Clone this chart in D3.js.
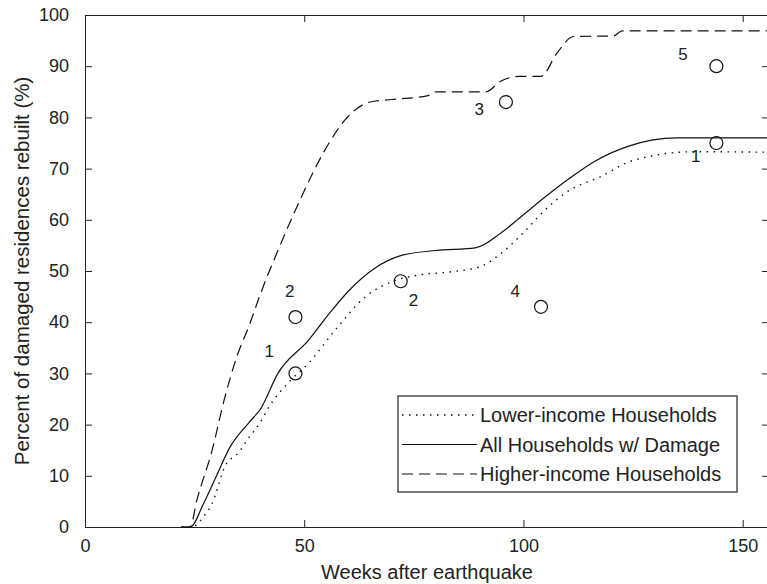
<!DOCTYPE html>
<html>
<head>
<meta charset="utf-8">
<script src="https://cdn.jsdelivr.net/npm/d3@7"></script>
<style>
  body { margin: 0; background: #fff; }
  text { font-family: "Liberation Sans", Arial, sans-serif; fill: #222; }
</style>
</head>
<body>
<div id="chart"></div>
<script>
'use strict';

/* curves: weeks after earthquake -> percent rebuilt */
var allWeeks = [22, 24, 27, 30, 33, 37.5, 40, 44, 51, 56, 60, 66, 72, 80, 89, 95, 100, 105, 111, 116, 124, 135, 156];
var allPct   = [0, 0, 4.5, 10, 15.5, 20.5, 23, 30, 36.5, 42, 46, 50.5, 53, 54, 54.5, 57.5, 61, 64.5, 68.4, 71.3, 74.4, 76, 76];

var lowWeeks = [22, 24.5, 27, 29, 32, 35, 37, 40, 42, 46.5, 51, 57, 64, 71, 76, 83, 90, 95, 100, 105, 110, 117.5, 125, 139, 156];
var lowPct   = [0, 0, 2, 4.6, 12, 14.5, 17, 20.5, 23.5, 28.3, 32, 38.4, 45, 48.2, 49.2, 49.8, 50.8, 53.5, 57.5, 62, 65.5, 68.4, 71.6, 73.3, 73.2];

var highWeeks = [22, 24, 25.5, 29, 31.7, 34.6, 37.6, 40, 44, 49, 54.7, 59.3, 65, 70, 78, 80, 91.5, 94.7, 99, 104, 107.6, 111.4, 120.5, 122.5, 156];
var highPct   = [0, 0, 5.2, 15, 24.7, 33.2, 39.7, 45.5, 54, 63.8, 73.6, 79.5, 83, 83.5, 84.2, 85, 85, 87, 88, 88, 92.5, 95.8, 95.9, 96.9, 96.9];

/* survey points and their labels */
var surveyWeeks  = [48, 48, 72, 96, 104, 144, 144];
var surveyPct    = [41, 30, 48, 83, 43, 90, 75];
var surveyLabels = ['2', '1', '2', '3', '4', '5', '1'];
var labelWeeks   = [46.7, 42, 74.9, 89.9, 98.1, 136.4, 139.3];
var labelPct     = [45.9, 34.2, 44.3, 81.6, 45.9, 92.3, 72.3];

var xTicks = [0, 50, 100, 150];
var yTicks = [0, 10, 20, 30, 40, 50, 60, 70, 80, 90, 100];

var seriesNames = ['Lower-income Households', 'All Households w/ Damage', 'Higher-income Households'];

var width = 767, height = 584;
var margin = {top: 15, right: -2, bottom: 57, left: 85};
var innerW = width - margin.left - margin.right;
var innerH = height - margin.top - margin.bottom;
var tickLen = 7;

var svg = d3.select('#chart')
  .append('svg')
  .attr('width', width)
  .attr('height', height);

var g = svg.append('g')
  .attr('transform', 'translate(' + margin.left + ',' + margin.top + ')');

var x = d3.scaleLinear().domain([0, 156]).range([0, innerW]);
var y = d3.scaleLinear().domain([0, 100]).range([innerH, 0]);

/* axes: MATLAB style box with inward ticks */
g.append('g')
  .attr('transform', 'translate(0,' + innerH + ')')
  .call(d3.axisBottom(x).tickValues(xTicks).tickSizeInner(-tickLen).tickSizeOuter(0).tickPadding(12));
g.append('g')
  .call(d3.axisTop(x).tickValues(xTicks).tickSizeInner(-tickLen).tickSizeOuter(0).tickFormat(''));
g.append('g')
  .call(d3.axisLeft(y).tickValues(yTicks).tickSizeInner(-tickLen).tickSizeOuter(0).tickPadding(16));
g.append('g')
  .attr('transform', 'translate(' + innerW + ',0)')
  .call(d3.axisRight(y).tickValues(yTicks).tickSizeInner(-tickLen).tickSizeOuter(0).tickFormat(''));

g.selectAll('.domain').attr('stroke', '#222');
g.selectAll('.tick line').attr('stroke', '#222');
g.selectAll('.tick text')
  .style('font-size', '18px')
  .style('font-family', '"Liberation Sans", Arial, sans-serif')
  .attr('fill', '#222');

/* axis labels */
svg.append('text')
  .attr('x', margin.left + innerW / 2)
  .attr('y', 579)
  .attr('text-anchor', 'middle')
  .style('font-size', '20px')
  .text('Weeks after earthquake');

svg.append('text')
  .attr('transform', 'translate(29,' + (margin.top + innerH / 2) + ') rotate(-90)')
  .attr('text-anchor', 'middle')
  .style('font-size', '20.5px')
  .text('Percent of damaged residences rebuilt (%)');

/* curves */
var line = d3.line()
  .x(function(d) { return x(d[0]); })
  .y(function(d) { return y(d[1]); })
  .curve(d3.curveMonotoneX);

var series = [
  {w: lowWeeks, p: lowPct, dash: '1.5,5.5', width: 1.4},
  {w: allWeeks, p: allPct, dash: null, width: 1.2},
  {w: highWeeks, p: highPct, dash: '11,6', width: 1.2}
];

series.forEach(function(s) {
  g.append('path')
    .datum(d3.zip(s.w, s.p))
    .attr('d', line)
    .attr('fill', 'none')
    .attr('stroke', '#111')
    .attr('stroke-width', s.width)
    .attr('stroke-dasharray', s.dash);
});

/* survey points */
g.selectAll('.pt')
  .data(d3.range(surveyWeeks.length))
  .enter()
  .append('circle')
  .attr('cx', function(i) { return x(surveyWeeks[i]); })
  .attr('cy', function(i) { return y(surveyPct[i]); })
  .attr('r', 6.5)
  .attr('fill', 'none')
  .attr('stroke', '#111')
  .attr('stroke-width', 1.2);

g.selectAll('.lbl')
  .data(d3.range(surveyLabels.length))
  .enter()
  .append('text')
  .attr('x', function(i) { return x(labelWeeks[i]); })
  .attr('y', function(i) { return y(labelPct[i]); })
  .attr('text-anchor', 'middle')
  .attr('dominant-baseline', 'central')
  .style('font-size', '17px')
  .text(function(i) { return surveyLabels[i]; });

/* legend */
var legend = svg.append('g').attr('transform', 'translate(398,396)');
legend.append('rect')
  .attr('width', 339)
  .attr('height', 96)
  .attr('fill', '#fff')
  .attr('stroke', '#222')
  .attr('stroke-width', 1.2);

seriesNames.forEach(function(name, i) {
  var ly = 19 + i * 29.5;
  legend.append('line')
    .attr('x1', 4)
    .attr('x2', 79)
    .attr('y1', ly)
    .attr('y2', ly)
    .attr('stroke', '#111')
    .attr('stroke-width', series[i].width)
    .attr('stroke-dasharray', series[i].dash);
  legend.append('text')
    .attr('x', 82)
    .attr('y', ly + 7)
    .style('font-size', '20px')
    .text(name);
});
</script>
</body>
</html>
